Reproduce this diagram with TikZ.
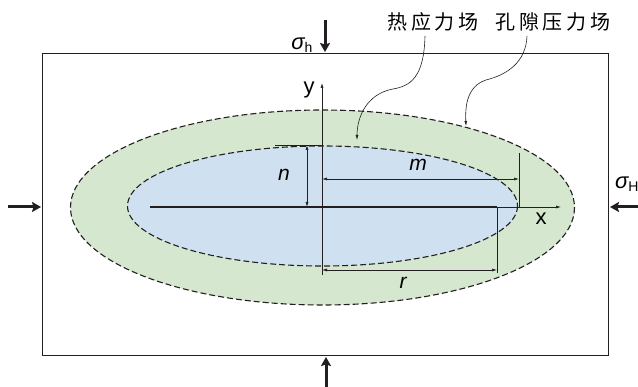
\documentclass[tikz,border=0pt]{standalone}
\usepackage{fontspec}
\setmainfont{Liberation Sans}
\newfontfamily\cjk[LetterSpace=18]{Noto Sans CJK SC}
\definecolor{fgreen}{RGB}{213,231,207}
\definecolor{fblue}{RGB}{207,225,241}
\definecolor{dkline}{RGB}{35,31,32}
\usetikzlibrary{arrows.meta,positioning,calc}

\begin{document}
\begin{tikzpicture}[x=1pt,y=-1pt,
  lbl/.style={font=\fontsize{21}{21}\selectfont\itshape,inner sep=0pt},
  ax/.style={font=\fontsize{22}{22}\selectfont,inner sep=0pt},
  load/.style={dkline,line width=3pt,-{Stealth[length=9pt,width=10pt,inset=1.5pt]}},
  dim/.style={dkline,line width=0.6pt,{Latex[length=5pt,width=3pt]}-{Latex[length=5pt,width=3pt]}},
  lead/.style={dkline,line width=0.6pt,-{Latex[length=5pt,width=3pt]}},
  field/.style={dkline,line width=1.1pt,dash pattern=on 6pt off 3pt}]
  \useasboundingbox (0,0) rectangle (638,387);
  % block and fields
  \node[draw=dkline,line width=0.9pt,minimum width=566pt,minimum height=302pt,inner sep=0pt] (blk) at (325,204) {};
  \draw[field,fill=fgreen] (322.5,207.5) ellipse [x radius=252,y radius=97.5];
  \draw[field,fill=fblue] (322.5,206) ellipse [x radius=195,y radius=60];
  % axes and crack
  \coordinate (O) at (322,207);
  \coordinate (ybot) at (322,275);
  \coordinate (ytop) at (322,83);
  \coordinate (xend) at (561,207);
  \coordinate (ctip1) at (150,207);
  \coordinate (ctip2) at (497,207);
  \draw[lead] (ybot) -- (ytop);
  \draw[lead] (O) -- (xend);
  \draw[dkline,line width=2pt] (ctip1) -- (ctip2);
  \node[ax] (xl) at (541,219) {x};
  \node[ax] (yl) at (309,90) {y};
  % dimensions
  \coordinate (ntop) at (275,145);
  \coordinate (nax) at (322,145);
  \draw[dkline,line width=0.6pt] (ntop) -- (nax);
  \draw[dim] (307,145) -- (307,207);
  \node[lbl] (nl) at (284,175) {n};
  \coordinate (mtop) at (519,153);
  \coordinate (mbot) at (519,207);
  \draw[dkline,line width=0.6pt] (mtop) -- (mbot);
  \draw[dim] (322,179) -- (519,179);
  \node[lbl] (ml) at (418,165) {m};
  \coordinate (rbot) at (497,273);
  \draw[dkline,line width=0.6pt] (ctip2) -- (rbot);
  \draw[dim] (322,270) -- (497,270);
  \node[lbl] (rl) at (403,283) {r};
  % in-situ stresses
  \coordinate (sT) at (325,20);
  \coordinate (sTe) at (325,52);
  \coordinate (sB) at (326,390);
  \coordinate (sBe) at (326,357);
  \coordinate (sL) at (8,207);
  \coordinate (sLe) at (41,207);
  \coordinate (sR) at (640,207);
  \coordinate (sRe) at (610,207);
  \draw[load] (sT) -- (sTe);
  \draw[load] (sB) -- (sBe);
  \draw[load] (sL) -- (sLe);
  \draw[load] (sR) -- (sRe);
  \node[font=\fontsize{22}{22}\selectfont,inner sep=0pt] (sh) at (302,45) {\itshape σ\upshape\raisebox{-0.3ex}{\fontsize{14}{14}\selectfont h}};
  \node[font=\fontsize{22}{22}\selectfont,inner sep=0pt,anchor=west] (sH) at (615,184) {\itshape σ\upshape\raisebox{-0.3ex}{\fontsize{14}{14}\selectfont H}};
  % field labels
  \node[font=\fontsize{20}{20}\selectfont\cjk,inner sep=0pt] (heat) at (433,22) {热应力场};
  \node[font=\fontsize{20}{20}\selectfont\cjk,inner sep=0pt] (pore) at (553,22) {孔隙压力场};
  \draw[lead] (425,36) .. controls (424,78) and (410,86) .. (393,89) .. controls (366,94) and (357,118) .. (357,140);
  \draw[lead] (527,36) .. controls (526,63) and (506,75) .. (486,80) .. controls (468,86) and (465,104) .. (466,126);
\end{tikzpicture}
\end{document}
